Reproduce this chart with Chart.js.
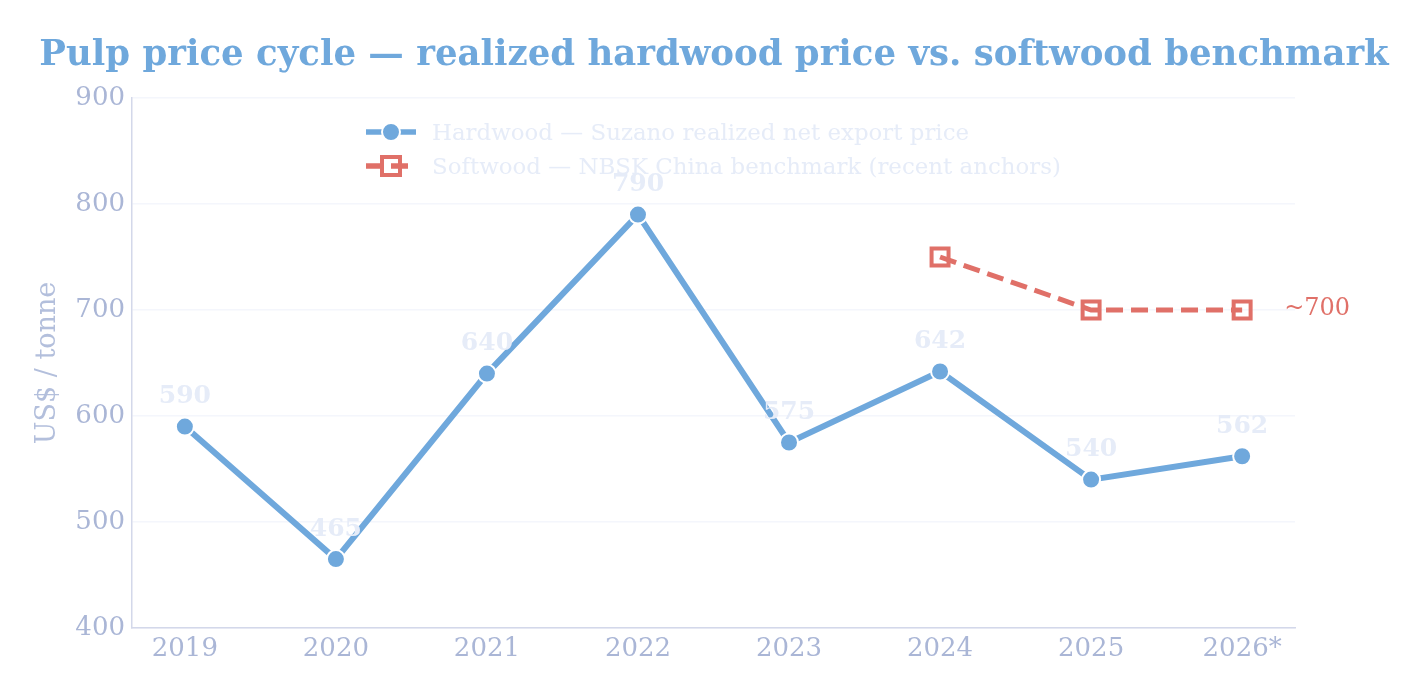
<!DOCTYPE html>
<html>
<head>
<meta charset="utf-8">
<script src="https://cdn.jsdelivr.net/npm/chart.js@4/dist/chart.umd.min.js"></script>
<style>
  html, body { margin: 0; padding: 0; background: #ffffff; }
  #wrap { width: 1424px; height: 700px; }
</style>
</head>
<body>
<div id="wrap"><canvas id="pulpChart" width="1424" height="700"></canvas></div>
<script>
// Chart data
const years = ['2019', '2020', '2021', '2022', '2023', '2024', '2025', '2026*'];
const hardwoodPrice = [590, 465, 640, 790, 575, 642, 540, 562];
const softwoodYears = [5, 6, 7]; // index into years
const softwoodPrice = [750, 700, 700];
const yTicks = [400, 500, 600, 700, 800, 900];

const FONT = "'DejaVu Serif', serif";
const BLUE = '#6fa8dc';
const RED = '#e07068';
const TICK_COLOR = '#aab6d6';
const LABEL_COLOR = '#e6ecf8';

// Title, value labels, end annotation and legend drawn on canvas
const overlayPlugin = {
  id: 'overlay',
  afterDatasetsDraw(chart) {
    const ctx = chart.ctx;
    ctx.save();

    // Title
    ctx.font = 'bold 35.5px ' + FONT;
    ctx.fillStyle = BLUE;
    ctx.textAlign = 'center';
    ctx.textBaseline = 'middle';
    ctx.fillText('Pulp price cycle \u2014 realized hardwood price vs. softwood benchmark', 714, 56);

    // Value labels above hardwood points
    const hw = chart.getDatasetMeta(0);
    ctx.font = 'bold 25px ' + FONT;
    ctx.fillStyle = LABEL_COLOR;
    hw.data.forEach((pt, i) => {
      ctx.fillText(String(hardwoodPrice[i]), pt.x, pt.y - 30);
    });

    // "~700" annotation to the right of last softwood point
    const sw = chart.getDatasetMeta(1);
    const last = sw.data[sw.data.length - 1];
    ctx.font = '24px ' + FONT;
    ctx.fillStyle = RED;
    ctx.textAlign = 'left';
    ctx.fillText('~' + softwoodPrice[softwoodPrice.length - 1], last.x + 42, last.y - 1);

    // Legend
    const items = [
      { text: 'Hardwood \u2014 Suzano realized net export price', color: BLUE, dash: [], marker: 'circle' },
      { text: 'Softwood \u2014 NBSK China benchmark (recent anchors)', color: RED, dash: [17, 8], marker: 'rect' }
    ];
    items.forEach((it, k) => {
      const y = 132 + k * 34;
      ctx.strokeStyle = it.color;
      ctx.lineWidth = 5.5;
      ctx.setLineDash(it.dash);
      ctx.beginPath();
      ctx.moveTo(366, y);
      ctx.lineTo(416, y);
      ctx.stroke();
      ctx.setLineDash([]);
      if (it.marker === 'circle') {
        ctx.beginPath();
        ctx.arc(391, y, 9, 0, Math.PI * 2);
        ctx.fillStyle = it.color;
        ctx.fill();
        ctx.strokeStyle = '#ffffff';
        ctx.lineWidth = 2;
        ctx.stroke();
      } else {
        ctx.strokeStyle = it.color;
        ctx.lineWidth = 4;
        ctx.strokeRect(382, y - 9, 18, 18);
      }
      ctx.font = '22.9px ' + FONT;
      ctx.fillStyle = LABEL_COLOR;
      ctx.textAlign = 'left';
      ctx.fillText(it.text, 432, y + 2);
    });

    ctx.restore();
  }
};

const ctx = document.getElementById('pulpChart').getContext('2d');
const pulpChart = new Chart(ctx, {
  type: 'line',
  data: {
    datasets: [{
      label: 'Hardwood',
      data: hardwoodPrice.map((v, i) => ({ x: i, y: v })),
      borderColor: BLUE,
      backgroundColor: BLUE,
      borderWidth: 6,
      tension: 0,
      pointRadius: 9,
      pointBorderColor: '#ffffff',
      pointBorderWidth: 2,
      pointBackgroundColor: BLUE
    }, {
      label: 'Softwood',
      data: softwoodPrice.map((v, i) => ({ x: softwoodYears[i], y: v })),
      borderColor: RED,
      backgroundColor: 'rgba(0,0,0,0)',
      borderWidth: 5,
      borderDash: [17, 8],
      tension: 0,
      pointStyle: 'rect',
      pointRadius: 12,
      pointBorderColor: RED,
      pointBorderWidth: 4,
      pointBackgroundColor: 'rgba(0,0,0,0)'
    }]
  },
  options: {
    responsive: false,
    animation: false,
    layout: { padding: { top: 98, right: 129, left: 0, bottom: 0 } },
    scales: {
      x: {
        type: 'linear',
        min: -0.35,
        max: 7.35,
        afterBuildTicks: (scale) => {
          scale.ticks = years.map((_, i) => ({ value: i }));
        },
        afterFit: (scale) => { scale.height = 72; },
        border: { display: true, color: '#d3d8ea', width: 1.5 },
        grid: { display: false, drawTicks: false },
        ticks: {
          color: TICK_COLOR,
          padding: 6,
          font: { family: FONT, size: 26 },
          callback: (v) => years[v]
        }
      },
      y: {
        min: 400,
        max: 900,
        afterBuildTicks: (scale) => {
          scale.ticks = yTicks.map(v => ({ value: v }));
        },
        afterFit: (scale) => { scale.width = 132; },
        border: { display: true, color: '#d3d8ea', width: 1.5 },
        grid: { color: '#f4f6fc', lineWidth: 1.5, drawTicks: false },
        ticks: {
          color: TICK_COLOR,
          padding: 7,
          font: { family: FONT, size: 26 }
        },
        title: {
          display: true,
          text: 'US$ / tonne',
          color: '#b3bfdc',
          font: { family: FONT, size: 27 },
          padding: { top: 32, bottom: 0 }
        }
      }
    },
    plugins: {
      legend: { display: false },
      title: { display: false },
      tooltip: { enabled: false }
    }
  },
  plugins: [overlayPlugin]
});
</script>
</body>
</html>
